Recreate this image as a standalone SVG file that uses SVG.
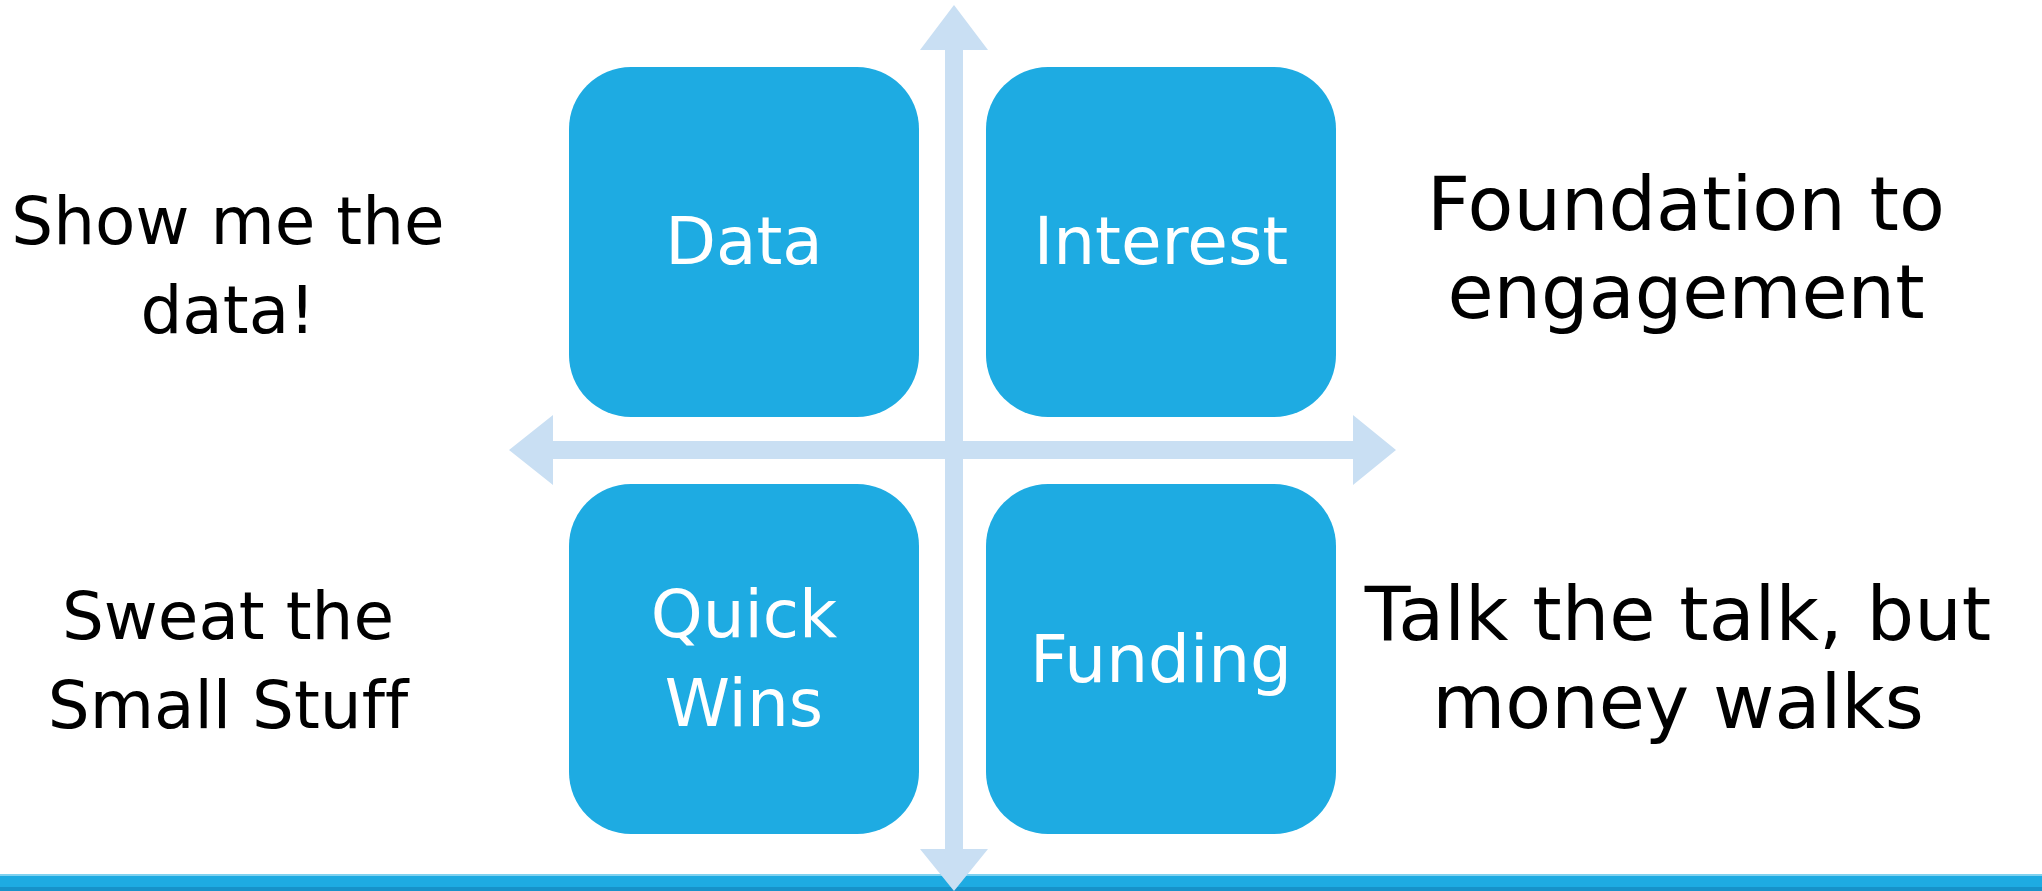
<svg xmlns="http://www.w3.org/2000/svg" width="2042" height="891" viewBox="0 0 2042 891">
  <style>
    .box { fill: #1EABE2; }
    .boxtxt { fill: #FFFFFF; font-family: "DejaVu Sans", "Liberation Sans", sans-serif; font-size: 66px; text-anchor: middle; font-variant-ligatures: none; }
    .side { fill: #000000; font-family: "DejaVu Sans", "Liberation Sans", sans-serif; text-anchor: middle; font-variant-ligatures: none; }
    .left { font-size: 66px; }
    .right { font-size: 75px; }
    .arrow { fill: #C9DFF3; }
  </style>
  <rect x="0" y="0" width="2042" height="891" fill="#FFFFFF"/>
  <g id="bottom-bar">
    <rect x="0" y="874" width="2042" height="17" fill="#1EABE2"/>
    <rect x="0" y="874" width="2042" height="2" fill="#7FD2F0"/>
    <rect x="0" y="887" width="2042" height="4" fill="#1792C9"/>
  </g>
  <g id="connectors">
    <polygon class="arrow" points="954,5 988,50 963,50 963,849 988,849 954,891 920,849 945,849 945,50 920,50"/>
    <polygon class="arrow" points="509,450 553,415 553,441 1353,441 1353,415 1396,450 1353,485 1353,459 553,459 553,485"/>
  </g>
  <g id="node-data">
    <rect class="box" x="569" y="67" width="350" height="350" rx="62" ry="62"/>
    <text class="boxtxt" x="744" y="264">Data</text>
  </g>
  <g id="node-interest">
    <rect class="box" x="986" y="67" width="350" height="350" rx="62" ry="62"/>
    <text class="boxtxt" x="1161" y="264">Interest</text>
  </g>
  <g id="node-quickwins">
    <rect class="box" x="569" y="484" width="350" height="350" rx="62" ry="62"/>
    <text class="boxtxt" x="744" y="637">Quick</text>
    <text class="boxtxt" x="744" y="726">Wins</text>
  </g>
  <g id="node-funding">
    <rect class="box" x="986" y="484" width="350" height="350" rx="62" ry="62"/>
    <text class="boxtxt" x="1161" y="682">Funding</text>
  </g>
  <g id="label-data">
    <text class="side left" x="228" y="244">Show me the</text>
    <text class="side left" x="228" y="333">data!</text>
  </g>
  <g id="label-interest">
    <text class="side right" x="1686" y="230">Foundation to</text>
    <text class="side right" x="1686" y="318">engagement</text>
  </g>
  <g id="label-quickwins">
    <text class="side left" x="228" y="639">Sweat the</text>
    <text class="side left" x="228" y="728">Small Stuff</text>
  </g>
  <g id="label-funding">
    <text class="side right" x="1678" y="640">Talk the talk, but</text>
    <text class="side right" x="1678" y="728">money walks</text>
  </g>
</svg>
